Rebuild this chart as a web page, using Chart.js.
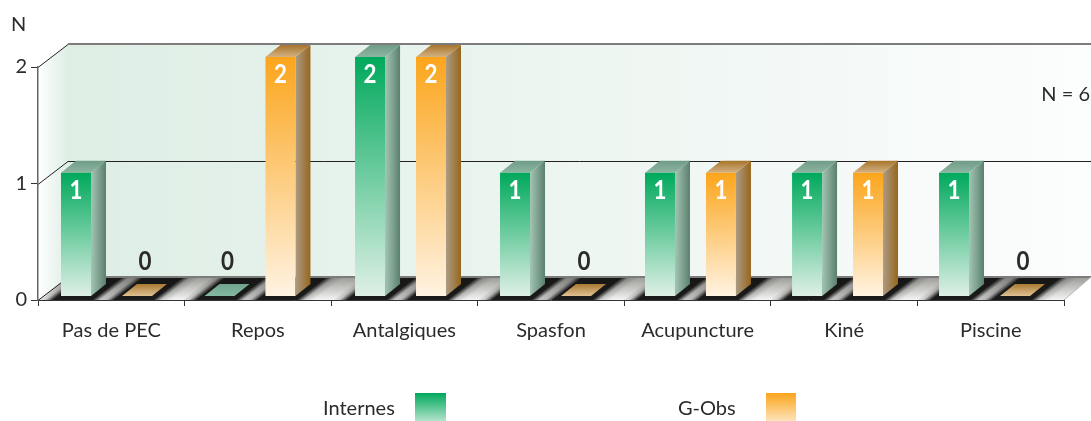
<!DOCTYPE html>
<html>
<head>
<meta charset="utf-8">
<script src="https://cdn.jsdelivr.net/npm/chart.js@4/dist/chart.umd.min.js"></script>
<style>html,body{margin:0;padding:0;background:#fff}canvas{display:block}</style>
</head>
<body>
<canvas id="c" width="1091" height="421"></canvas>
<script>
const categories = ['Pas de PEC','Repos','Antalgiques','Spasfon','Acupuncture','Kiné','Piscine'];
const internes = [1,0,2,1,1,1,1];
const gObs = [0,2,2,0,1,1,0];
const yTicks = [0,1,2];
const seriesNames = ['Internes','G-Obs'];
const noteText = 'N = 6';
const axisTitle = 'N';

const FONT = 'Lato, "Open Sans", sans-serif';
const TEXT = '#2b2b2b';
const DX = 30, DY = 23;         // wall depth
const BX = 15, BY = 12;         // bar depth
const SHIFTS = [-4.8,-7.9,-3.9,-5.5,-7.1,-6.6,-6.2];  // bar groups sit left of the tick centre

const pal = [
  {top:'#00a95c', bot:'#dff0e6', capA:'#6f9c87', capB:'#8db5a2', sideA:'#a3c5b4', sideB:'#5b7f6e', zeroA:'#6fa48c', zeroB:'#86b9a1'},
  {top:'#fba51b', bot:'#fff3e2', capA:'#a8742a', capB:'#d3b283', sideA:'#ab9b85', sideB:'#97661c', zeroA:'#a87a33', zeroB:'#e0c193'}
];

function vGrad(ctx,y0,y1,a,b){const g=ctx.createLinearGradient(0,y0,0,y1);g.addColorStop(0,a);g.addColorStop(1,b);return g;}
function hGrad(ctx,x0,x1,a,b){const g=ctx.createLinearGradient(x0,0,x1,0);g.addColorStop(0,a);g.addColorStop(1,b);return g;}
function poly(ctx,pts){ctx.beginPath();pts.forEach((p,i)=>i?ctx.lineTo(p[0],p[1]):ctx.moveTo(p[0],p[1]));ctx.closePath();}

function frontColor(dsIndex){
  return function(c){
    const v = c.raw;
    if(!v) return 'rgba(0,0,0,0)';
    const sc = c.chart.scales.y1;
    if(!sc) return pal[dsIndex].top;
    const y0 = sc.getPixelForValue(v), y1 = sc.getPixelForValue(-0.065);
    if(!isFinite(y0)||!isFinite(y1)) return pal[dsIndex].top;
    return vGrad(c.chart.ctx,y0,y1,pal[dsIndex].top,pal[dsIndex].bot);
  };
}

const scene = {
  id:'scene',
  afterDatasetsUpdate(chart){
    chart.data.datasets.forEach((d,i)=>chart.getDatasetMeta(i).data.forEach((el,j)=>{el.x+=SHIFTS[j];}));
  },
  beforeDraw(chart){
    const {ctx,chartArea:a,scales:{y}} = chart;
    const W = chart.width;
    const y0 = y.getPixelForValue(0), yT = y.getPixelForValue(yTicks[yTicks.length-1]);
    const bx = a.left+DX;
    ctx.save();
    // back wall
    ctx.fillStyle = hGrad(ctx,bx,W,'#deeee5','#fcfdfd');
    ctx.fillRect(bx,yT-DY,W-bx,y0-yT);
    // side wall
    ctx.fillStyle = hGrad(ctx,a.left,bx,'#ffffff','#deeee5');
    poly(ctx,[[a.left,yT],[bx,yT-DY],[bx,y0-DY],[a.left,y0]]);ctx.fill();
    // floor
    const floor=[[a.left,y0],[bx,y0-DY],[W,y0-DY],[a.right,y0]];
    ctx.save();
    poly(ctx,floor);ctx.fillStyle=vGrad(ctx,y0-DY,y0,'#9a9a96','#f4f4f2');ctx.fill();ctx.clip();
    ctx.transform(1,0,-DX/DY,1,y0*DX/DY,0);
    chart.data.datasets.forEach((d,i)=>chart.getDatasetMeta(i).data.forEach(el=>{
      const x0=el.x-el.width/2-5, x1=el.x+el.width/2-5;
      const l=x0-18, r=x1+24;
      const sg=ctx.createLinearGradient(l,0,r,0);
      const t=v=>(v-l)/(r-l);
      sg.addColorStop(0,'rgba(20,20,20,0)');
      sg.addColorStop(t(x0-11),'rgba(20,20,20,0.18)');
      sg.addColorStop(t(x0-3),'rgba(15,15,15,0.95)');
      sg.addColorStop(t(x1+6),'rgba(15,15,15,0.95)');
      sg.addColorStop(t(x1+14),'rgba(20,20,20,0.18)');
      sg.addColorStop(1,'rgba(20,20,20,0)');
      ctx.fillStyle=sg;
      ctx.fillRect(l,y0-DY,r-l,DY);
    }));
    ctx.restore();
    // wall and floor edges
    ctx.strokeStyle='#7c7c7c';
    ctx.lineWidth=2;
    ctx.beginPath();ctx.moveTo(bx,yT-DY);ctx.lineTo(W,yT-DY);ctx.stroke();
    ctx.beginPath();ctx.moveTo(bx,y0-DY);ctx.lineTo(W,y0-DY);ctx.stroke();
    ctx.lineWidth=1;
    ctx.strokeStyle='#222';
    yTicks.forEach(v=>{
      const p=Math.round(y.getPixelForValue(v))+0.5;
      ctx.beginPath();ctx.moveTo(a.left,p);ctx.lineTo(bx,p-DY);
      if(v===1){ctx.lineTo(W,p-DY);}
      ctx.stroke();
    });
    ctx.strokeStyle='#b5b5b0';
    ctx.beginPath();ctx.moveTo(W,y0-DY);ctx.lineTo(a.right,y0);ctx.stroke();
    ctx.restore();
  },
  beforeDatasetsDraw(chart){
    const {ctx} = chart;
    ctx.save();
    chart.data.datasets.forEach((d,i)=>chart.getDatasetMeta(i).data.forEach((el,j)=>{
      const v=d.data[j], c=pal[i];
      const l=el.x-el.width/2, r=el.x+el.width/2, b=el.base;
      if(v===0){
        ctx.fillStyle=vGrad(ctx,b-BY,b,c.zeroA,c.zeroB);
        poly(ctx,[[l,b],[r,b],[r+BX,b-BY],[l+BX,b-BY]]);ctx.fill();
        return;
      }
      const t=el.y;
      ctx.fillStyle=vGrad(ctx,t-BY,t,c.capA,c.capB);
      poly(ctx,[[l,t],[r,t],[r+BX,t-BY],[l+BX,t-BY]]);ctx.fill();
      ctx.fillStyle=hGrad(ctx,r,r+BX,c.sideA,c.sideB);
      poly(ctx,[[r,t],[r+BX,t-BY],[r+BX,b-BY],[r,b]]);ctx.fill();
    }));
    ctx.restore();
  },
  afterDatasetsDraw(chart){
    const {ctx} = chart;
    ctx.save();
    ctx.textAlign='center';ctx.textBaseline='middle';
    ctx.font='bold 26px '+FONT;
    const label=(s,x,y,col)=>{
      ctx.save();ctx.translate(x,y);ctx.scale(0.86,1);
      ctx.fillStyle=col;ctx.fillText(s,0,0);ctx.restore();
    };
    chart.data.datasets.forEach((d,i)=>chart.getDatasetMeta(i).data.forEach((el,j)=>{
      const v=d.data[j];
      if(v===0) label(String(v),el.x+8,262,'#2b2b2b');
      else label(String(v),el.x,el.y+18,'#fff');
    }));
    ctx.fillStyle=TEXT;
    ctx.font='20px '+FONT;
    ctx.textAlign='left';
    ctx.fillText(axisTitle,11,25);
    ctx.textAlign='right';
    ctx.fillText(noteText,1090,95);
    ctx.textAlign='left';
    const lx=[[323,415,31],[678,766,30]];
    seriesNames.forEach((n,i)=>{
      ctx.fillStyle=TEXT;ctx.fillText(n,lx[i][0],409);
      ctx.fillStyle=vGrad(ctx,393,428,pal[i].top,pal[i].bot);
      ctx.fillRect(lx[i][1],393,lx[i][2],28);
    });
    ctx.restore();
  }
};

new Chart(document.getElementById('c'),{
  type:'bar',
  data:{
    labels:categories,
    datasets:[
      {label:seriesNames[0],data:internes,backgroundColor:frontColor(0),yAxisID:'y1',base:-0.065,clip:false,categoryPercentage:0.832,barPercentage:0.492},
      {label:seriesNames[1],data:gObs,backgroundColor:frontColor(1),yAxisID:'y1',base:-0.065,clip:false,categoryPercentage:0.832,barPercentage:0.492}
    ]
  },
  options:{
    responsive:false,
    animation:false,
    events:[],
    layout:{padding:{top:67,right:27,left:0,bottom:0}},
    plugins:{legend:{display:false},tooltip:{enabled:false},title:{display:false}},
    scales:{
      x:{
        offset:true,
        afterFit(s){s.height=121;},
        border:{color:'#333',width:1},
        grid:{offset:true,drawOnChartArea:false,color:'#333',tickLength:6},
        ticks:{color:TEXT,font:{family:FONT,size:20},padding:13,maxRotation:0,autoSkip:false}
      },
      y:{
        min:0,max:2,
        afterFit(s){s.width=38;},
        afterBuildTicks(s){s.ticks=yTicks.map(v=>({value:v}));},
        border:{color:'#666',width:1.5},
        grid:{drawOnChartArea:false,color:'#333',tickLength:7},
        ticks:{color:TEXT,font:{family:FONT,size:20},padding:4}
      },
      y1:{display:false,min:-0.0994,max:1.9136}
    }
  },
  plugins:[scene]
});
</script>
</body>
</html>
